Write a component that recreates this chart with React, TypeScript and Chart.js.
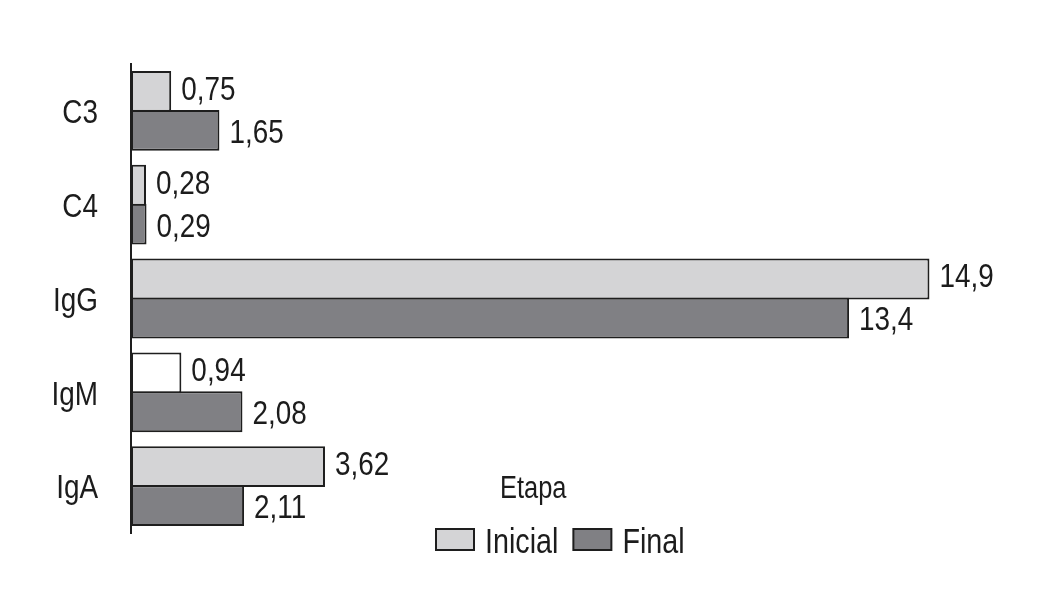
import React, { useEffect, useRef } from "react";
import { Chart, registerables } from "chart.js";

Chart.register(...registerables);

const categories = ["C3", "C4", "IgG", "IgM", "IgA"];
const inicialValues = [0.75, 0.28, 14.9, 0.94, 3.62];
const finalValues = [1.65, 0.29, 13.4, 2.08, 2.11];
const seriesNames = ["Inicial", "Final"];
const legendTitle = "Etapa";

const FONT = "'Liberation Sans', Arial, Helvetica, sans-serif";
const NARROW = 0.82;
const TEXT = "#1c1c1c";
const EDGE = "#1e1e1e";
const LIGHT = "#d4d4d6";
const DARK = "#808084";
// IgM initial bar is drawn white in the source figure
const inicialColors = [LIGHT, LIGHT, LIGHT, "#ffffff", LIGHT];

const fmt = (v: number) => String(v).replace(".", ",");

// condensed text (Helvetica Condensed look) drawn with a horizontal squeeze
function narrowText(ctx: any, text: string, x: number, y: number, size: number, align: string, baseline: string) {
  ctx.save();
  ctx.translate(x, y);
  ctx.scale(NARROW, 1);
  ctx.font = `${size}px ${FONT}`;
  ctx.textAlign = align;
  ctx.textBaseline = baseline;
  ctx.fillStyle = TEXT;
  ctx.fillText(text, 0, 0);
  const w = ctx.measureText(text).width * NARROW;
  ctx.restore();
  return w;
}

const textPlugin = {
  id: "narrowTexts",
  afterDatasetsDraw(chart: any) {
    const ctx = chart.ctx;
    const { chartArea } = chart;
    // category labels
    const yScale = chart.scales.y;
    categories.forEach((c, i) => {
      narrowText(ctx, c, chartArea.left - 33, yScale.getPixelForValue(i) + 3, 34, "right", "middle");
    });
    // value labels
    chart.data.datasets.forEach((ds: any, i: number) => {
      const meta = chart.getDatasetMeta(i);
      meta.data.forEach((bar: any, j: number) => {
        narrowText(ctx, fmt(ds.data[j]), bar.x + 10, bar.y + (i === 0 ? -1 : 3), 34, "left", "middle");
      });
    });
  },
  afterDraw(chart: any) {
    const { ctx, chartArea } = chart;
    narrowText(ctx, legendTitle, chartArea.left + 369, chartArea.bottom - 35, 31, "left", "alphabetic");
    let x = chartArea.left + 305;
    const boxTop = chartArea.bottom - 4;
    chart.data.datasets.forEach((ds: any, i: number) => {
      ctx.save();
      ctx.fillStyle = i === 0 ? LIGHT : DARK;
      ctx.fillRect(x, boxTop, 38, 21);
      ctx.strokeStyle = EDGE;
      ctx.lineWidth = 2;
      ctx.strokeRect(x, boxTop, 38, 21);
      ctx.restore();
      x += 49;
      const w = narrowText(ctx, ds.label, x, chartArea.bottom + 20, 35, "left", "alphabetic");
      x += w + 15;
    });
  },
};

export default function App() {
  const canvasRef = useRef<HTMLCanvasElement>(null);

  useEffect(() => {
    if (!canvasRef.current) return;
    const chart = new Chart(canvasRef.current, {
      type: "bar",
      data: {
        labels: categories,
        datasets: [
          {
            label: seriesNames[0],
            data: inicialValues,
            backgroundColor: inicialColors,
            borderColor: EDGE,
            borderWidth: 2,
            borderSkipped: false,
          },
          {
            label: seriesNames[1],
            data: finalValues,
            backgroundColor: DARK,
            borderColor: EDGE,
            borderWidth: 2,
            borderSkipped: false,
          },
        ],
      },
      options: {
        indexAxis: "y",
        animation: false,
        responsive: true,
        maintainAspectRatio: false,
        layout: { padding: { top: 64, bottom: 62, left: 0, right: 8 } },
        datasets: { bar: { categoryPercentage: 0.83, barPercentage: 1.05 } },
        plugins: {
          legend: { display: false },
          tooltip: { enabled: false },
          title: { display: false },
        },
        scales: {
          x: { display: false, min: 0, max: 17 },
          y: {
            afterFit: (s: any) => {
              s.width = 131;
            },
            grid: { display: false, drawTicks: false },
            border: { display: true, color: EDGE, width: 2 },
            ticks: { display: false },
          },
        },
      },
      plugins: [textPlugin],
    });
    return () => chart.destroy();
  }, []);

  return (
    <div style={{ position: "absolute", left: 0, top: 0, width: 1050, height: 595, background: "#fff" }}>
      <canvas ref={canvasRef} />
    </div>
  );
}
